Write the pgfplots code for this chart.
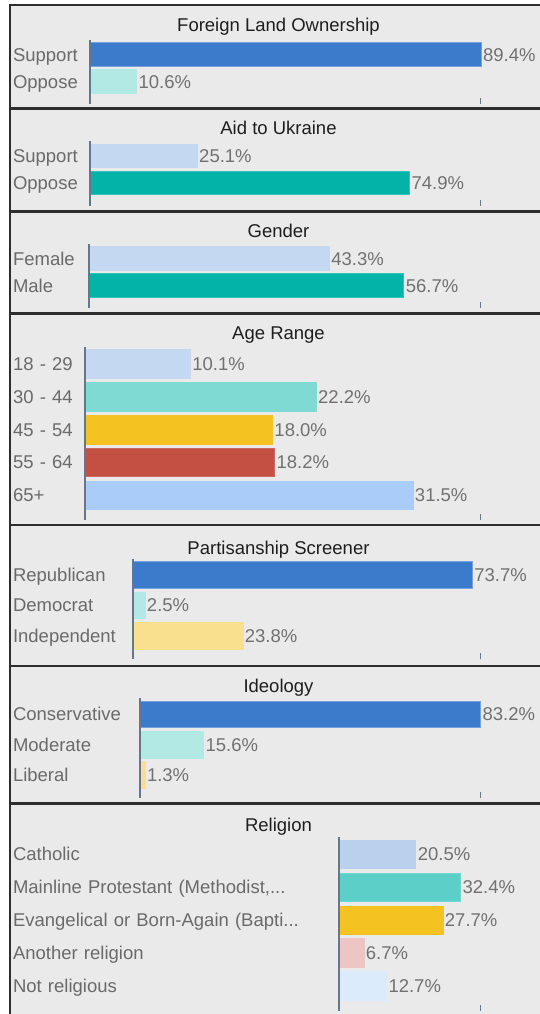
\documentclass[border=0pt]{standalone}
\usepackage{fontspec}
\setmainfont{Liberation Sans}
\usepackage{pgfplots}
\pgfplotsset{compat=1.18}

\definecolor{bgc}{HTML}{EAEAEA}
\definecolor{bordc}{HTML}{2E2E2E}
\definecolor{axc}{HTML}{66778C}
\definecolor{labc}{HTML}{6A6A6A}
\definecolor{valc}{HTML}{717171}
\definecolor{titc}{HTML}{1E1E1E}
\definecolor{cdblue}{HTML}{3C7BCB}
\definecolor{clcyan}{HTML}{B3E9E5}
\definecolor{clblue}{HTML}{C4D8F1}
\definecolor{cteal}{HTML}{03B3A7}
\definecolor{cmteal}{HTML}{7FDAD4}
\definecolor{cyel}{HTML}{F4C321}
\definecolor{cred}{HTML}{C44F43}
\definecolor{csky}{HTML}{A9CDF8}
\definecolor{clyel}{HTML}{F9E08F}
\definecolor{cmint}{HTML}{5BCFC8}
\definecolor{ccath}{HTML}{BAD1EE}
\definecolor{cpink}{HTML}{EDC5C2}
\definecolor{cpale}{HTML}{DCEBFB}

\newcommand\lab{\fontsize{18.5}{20}\selectfont}

\pgfplotsset{
  panel/.style={
    xbar, scale only axis, clip=false, y dir=reverse, axis on top,
    anchor=south west,
    axis x line=none, axis y line*=left,
    axis line style={draw=axc, line width=2pt},
    every outer y axis line/.append style={draw=axc, line width=2pt},
    every inner y axis line/.append style={draw=axc, line width=2pt},
    xmin=0, bar shift=0pt, point meta=x,
    ytick style={draw=none},
    yticklabel style={anchor=east, inner sep=0pt, align=left, xshift=4pt,
      text height=13.3pt, text depth=0pt, font=\lab, text=labc},
    nodes near coords={\pgfmathprintnumber[fixed,fixed zerofill,precision=1,assume math mode=true]{\pgfplotspointmeta}\%},
    every node near coord/.append style={font=\lab, text=valc, inner sep=0pt,
      xshift=2pt, text height=13.3pt, text depth=0pt},
  },
}

\begin{document}
\begin{tikzpicture}[x=1pt,y=1pt]
\useasboundingbox (0,0) rectangle (540,1014);
\clip (0,0) rectangle (540,1014);
\fill[bgc] (9.5,0) rectangle (545,1009);

% Foreign Land Ownership
\begin{axis}[panel, at={(90pt,910pt)}, width=390.4pt, height=64pt,
  xmax=89.3, ymin=-0.537, ymax=1.833, bar width=24pt,
  ytick={0,1}, yticklabels={Support,Oppose}, yticklabel style={text width=76.5pt}]
\addplot[fill=cdblue, draw=cdblue!70!white] coordinates {(89.4,0)};
\addplot[fill=clcyan, draw=clcyan] coordinates {(10.6,1)};
\end{axis}

% Aid to Ukraine
\begin{axis}[panel, at={(90pt,808.3pt)}, width=390.4pt, height=64.7pt,
  xmax=91.55, ymin=-0.562, ymax=1.861, bar width=23.4pt,
  ytick={0,1}, yticklabels={Support,Oppose}, yticklabel style={text width=76.5pt}]
\addplot[fill=clblue, draw=clblue] coordinates {(25.1,0)};
\addplot[fill=cteal, draw=cteal!80!white] coordinates {(74.9,1)};
\end{axis}

% Gender
\begin{axis}[panel, at={(88.5pt,706.3pt)}, width=391.9pt, height=63.4pt,
  xmax=70.5, ymin=-0.533, ymax=1.815, bar width=24pt,
  ytick={0,1}, yticklabels={Female,Male}, yticklabel style={text width=75pt}]
\addplot[fill=clblue, draw=clblue] coordinates {(43.3,0)};
\addplot[fill=cteal, draw=cteal!80!white] coordinates {(56.7,1)};
\end{axis}

% Age Range
\begin{axis}[panel, at={(85pt,494pt)}, width=395.4pt, height=172.7pt,
  xmax=38.0, ymin=-0.506, ymax=4.759, bar width=28.5pt,
  ytick={0,1,2,3,4}, yticklabels={18 - 29,30 - 44,45 - 54,55 - 64,65+},
  yticklabel style={text width=71.5pt}]
\addplot[fill=clblue, draw=clblue] coordinates {(10.1,0)};
\addplot[fill=cmteal, draw=cmteal] coordinates {(22.2,1)};
\addplot[fill=cyel, draw=cyel] coordinates {(18.0,2)};
\addplot[fill=cred, draw=cred!85!white] coordinates {(18.2,3)};
\addplot[fill=csky, draw=csky] coordinates {(31.5,4)};
\end{axis}

% Partisanship Screener
\begin{axis}[panel, at={(133.3pt,354.7pt)}, width=347.1pt, height=100pt,
  xmax=75.5, ymin=-0.518, ymax=2.782, bar width=26.6pt,
  ytick={0,1,2}, yticklabels={Republican,Democrat,Independent},
  yticklabel style={text width=119.8pt}]
\addplot[fill=cdblue, draw=cdblue!70!white] coordinates {(73.7,0)};
\addplot[fill=clcyan, draw=clcyan] coordinates {(2.5,1)};
\addplot[fill=clyel, draw=clyel] coordinates {(23.8,2)};
\end{axis}

% Ideology
\begin{axis}[panel, at={(139.5pt,215.7pt)}, width=340.9pt, height=100pt,
  xmax=83.2, ymin=-0.515, ymax=2.764, bar width=26.6pt,
  ytick={0,1,2}, yticklabels={Conservative,Moderate,Liberal},
  yticklabel style={text width=126pt}]
\addplot[fill=cdblue, draw=cdblue!70!white] coordinates {(83.2,0)};
\addplot[fill=clcyan, draw=clcyan] coordinates {(15.6,1)};
\addplot[fill=clyel, draw=clyel] coordinates {(1.3,2)};
\end{axis}

% Religion
\begin{axis}[panel, at={(338.5pt,3.3pt)}, width=141.9pt, height=173.4pt,
  xmax=37.7, ymin=-0.514, ymax=4.757, bar width=28.5pt,
  ytick={0,1,2,3,4},
  yticklabels={Catholic,{Mainline Protestant (Methodist,.{}.{}.},{Evangelical or Born-Again (Bapti.{}.{}.},Another religion,Not religious},
  yticklabel style={text width=325pt}]
\addplot[fill=ccath, draw=ccath] coordinates {(20.5,0)};
\addplot[fill=cmint, draw=cmint!85!white] coordinates {(32.4,1)};
\addplot[fill=cyel, draw=cyel] coordinates {(27.7,2)};
\addplot[fill=cpink, draw=cpink] coordinates {(6.7,3)};
\addplot[fill=cpale, draw=cpale] coordinates {(12.7,4)};
\end{axis}

% panel titles
\begin{scope}[every node/.style={anchor=base, font=\lab, text=titc, inner sep=0pt}]
\node at (278.5,982.5) {Foreign Land Ownership};
\node at (278.5,879) {Aid to Ukraine};
\node at (278.5,776.7) {Gender};
\node at (278.5,674) {Age Range};
\node at (278.5,459.7) {Partisanship Screener};
\node at (278.5,321.3) {Ideology};
\node at (278.5,182.3) {Religion};
\end{scope}

% end ticks
\foreach \yy in {910,808.3,706.3,494,354.7,215.7,3.3}
  \draw[axc, line width=1.4pt] (480.4,\yy) -- ++(0,6);

% panel frames
\foreach \yy in {1009,905.5,802.3,700.7,489,348,210.5}
  \draw[bordc, line width=2.6pt] (9.5,\yy) -- (545,\yy);
\draw[bordc, line width=2pt] (9.5,-1) -- (9.5,1010.3);
\end{tikzpicture}
\end{document}
